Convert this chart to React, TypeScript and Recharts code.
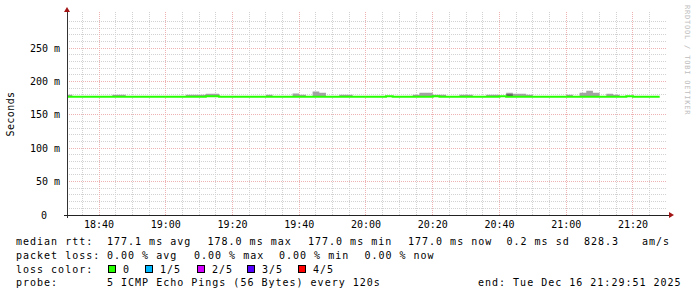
import React from 'react';
import { ComposedChart, Area, Line, XAxis, YAxis, CartesianGrid } from 'recharts';

// ---- data (2-minute buckets starting 18:30) ----
const START_MIN = 18 * 60 + 30;
const STEP_MIN = 2;

const medianMs = [
  177, 177, 177, 177, 177, 177, 177, 177, 177, 177,
  177, 177, 177, 177, 177, 177, 177, 177, 177, 177,
  177, 178, 178, 177, 177, 177, 177, 177, 177, 177,
  177, 177, 177, 177, 177, 177, 177, 177, 177, 177,
  177, 177, 177, 177, 177, 177, 177, 177, 178, 177,
  177, 177, 177, 177, 177, 178, 177, 177, 177, 177,
  177, 177, 177, 177, 177, 178, 177, 177, 177, 177,
  177, 177, 177, 177, 177, 177, 177, 177, 177, 177,
  177, 177, 177, 177, 178, 177, 177, 177, 177,
];

const smokeTopMs = [
  180, 177, 177, 177, 177, 177, 177, 180, 180, 177,
  177, 177, 177, 177, 177, 177, 177, 177, 180, 180,
  180, 181.5, 181.5, 177, 177, 177, 177, 177, 177, 177,
  180, 177, 177, 177, 182, 180, 177, 185, 183, 177,
  177, 180, 180, 177, 177, 177, 177, 177, 178, 177,
  177, 177, 180, 183, 183, 180, 180, 177, 177, 180,
  180, 177, 177, 180, 180, 178, 183, 181.5, 181.5, 180,
  177, 177, 177, 177, 177, 180, 177, 183, 186, 183,
  177, 181.5, 180, 177, 178, 177, 177, 177, 177,
];

const smokeCoreTopMs = [
  177, 177, 177, 177, 177, 177, 177, 177, 177, 177,
  177, 177, 177, 177, 177, 177, 177, 177, 177, 177,
  177, 178, 178, 177, 177, 177, 177, 177, 177, 177,
  177, 177, 177, 177, 177, 177, 177, 177, 177, 177,
  177, 177, 177, 177, 177, 177, 177, 177, 178, 177,
  177, 177, 177, 177, 177, 178, 177, 177, 177, 177,
  177, 177, 177, 177, 177, 178, 181, 177, 177, 177,
  177, 177, 177, 177, 177, 177, 177, 177, 177, 177,
  177, 177, 177, 177, 178, 177, 177, 177, 177,
];

const xMajorTicks = [1120, 1140, 1160, 1180, 1200, 1220, 1240, 1260, 1280];
const xTickLabels = ['18:40', '19:00', '19:20', '19:40', '20:00', '20:20', '20:40', '21:00', '21:20'];
const xMinorTicks = [1115, 1125, 1130, 1135, 1145, 1150, 1155, 1165, 1170, 1175, 1185, 1190, 1195,
  1205, 1210, 1215, 1225, 1230, 1235, 1245, 1250, 1255, 1265, 1270, 1275, 1285];
const yMajorTicks = [0, 50, 100, 150, 200, 250];
const yMajorGrid = [50, 100, 150, 200, 250];
const yMinorTicks = [10, 20, 30, 40, 60, 70, 80, 90, 110, 120, 130, 140, 160, 170, 180, 190,
  210, 220, 230, 240, 260, 270, 280, 290];
const X_DOMAIN: [number, number] = [1110.41, 1290.19];
const Y_DOMAIN: [number, number] = [0, 304];

const lossLabels = ['0', '1/5', '2/5', '3/5', '4/5'];
const lossColors = ['#26ff00', '#00b8ff', '#d400ff', '#5500ff', '#ff0000'];

const rows = medianMs.map((m, i) => ({
  t: START_MIN + i * STEP_MIN,
  median: m,
  smoke: [m, smokeTopMs[i]],
  core: [m, smokeCoreTopMs[i]],
}));
const last = medianMs.length - 1;
rows.push({
  t: START_MIN + medianMs.length * STEP_MIN,
  median: medianMs[last],
  smoke: [medianMs[last], smokeTopMs[last]],
  core: [medianMs[last], smokeCoreTopMs[last]],
});

const MONO = '"DejaVu Sans Mono", monospace';

const XTick = (props: any) => {
  const { x, y, payload } = props;
  const idx = xMajorTicks.indexOf(payload.value);
  return (
    <text x={x} y={y} dy={13.3} textAnchor="middle" fontFamily={MONO} fontSize={10} fill="#000">
      {idx >= 0 ? xTickLabels[idx] : ''}
    </text>
  );
};

const YTick = (props: any) => {
  const { x, y, payload } = props;
  const v = payload.value;
  return (
    <text x={x} y={y} dx={v === 0 ? -13 : 0} dy={3.6} textAnchor="end" fontFamily={MONO} fontSize={10} fill="#000">
      {v === 0 ? '0' : `${v} m`}
    </text>
  );
};

const legendFont = { fontFamily: MONO, fontSize: 10, letterSpacing: 1, fill: '#000' } as const;

export default function App() {
  return (
    <div style={{ position: 'absolute', left: 0, top: 0, width: 697, height: 297, background: '#fff' }}>
      <ComposedChart
        width={697}
        height={297}
        data={rows}
        margin={{ top: 12, right: 30, bottom: 0, left: 0 }}
      >
        <CartesianGrid
          horizontalValues={yMinorTicks}
          verticalValues={xMinorTicks}
          stroke="#d2d2d2"
          strokeDasharray="1 1"
          shapeRendering="crispEdges"
        />
        <CartesianGrid
          horizontalValues={yMajorGrid}
          verticalValues={xMajorTicks}
          stroke="#efb2b2"
          strokeDasharray="1 1"
          shapeRendering="crispEdges"
        />
        <XAxis
          type="number"
          dataKey="t"
          domain={X_DOMAIN}
          allowDataOverflow
          ticks={xMajorTicks}
          interval={0}
          tick={<XTick />}
          axisLine={false}
          tickLine={false}
          tickSize={0}
          tickMargin={0}
          height={82}
        />
        <YAxis
          type="number"
          domain={Y_DOMAIN}
          allowDataOverflow
          ticks={yMajorTicks}
          interval={0}
          tick={<YTick />}
          axisLine={false}
          tickLine={false}
          tickSize={0}
          tickMargin={7}
          width={67}
        />
        <Area
          type="stepAfter"
          dataKey="smoke"
          stroke="none"
          fill="#a2a2a2"
          fillOpacity={1}
          isAnimationActive={false}
        />
        <Area
          type="stepAfter"
          dataKey="core"
          stroke="none"
          fill="#5a5a5a"
          fillOpacity={1}
          isAnimationActive={false}
        />
        <Line
          type="stepAfter"
          dataKey="median"
          stroke="#26ff00"
          strokeWidth={2}
          dot={false}
          isAnimationActive={false}
        />
      </ComposedChart>
      <svg
        width={697}
        height={297}
        style={{ position: 'absolute', left: 0, top: 0, pointerEvents: 'none' }}
      >
        {/* axes */}
        <line x1={67} y1={11} x2={67} y2={218} stroke="#333" strokeWidth={1} shapeRendering="crispEdges" />
        <line x1={64} y1={215} x2={669} y2={215} stroke="#222" strokeWidth={1} shapeRendering="crispEdges" />
        <polygon points="64,12 70,12 67,7" fill="#a31515" />
        <polygon points="669,212 669,218 674,215" fill="#a31515" />
        {/* unit label */}
        <text
          transform="translate(14,114) rotate(-90)"
          textAnchor="middle"
          fontFamily={MONO}
          fontSize={10}
          letterSpacing={0.4}
          fill="#000"
        >
          Seconds
        </text>
        {/* watermark */}
        <text
          transform="translate(685,5) rotate(90)"
          fontFamily={MONO}
          fontSize={7}
          letterSpacing={0.8}
          fill="#bdbdbd"
        >
          RRDTOOL / TOBI OETIKER
        </text>
        {/* legend line 1 */}
        <text x={16} y={245.3} {...legendFont}>median rtt:</text>
        <text x={107} y={245.3} {...legendFont}>177.1 ms avg</text>
        <text x={207.5} y={245.3} {...legendFont}>178.0 ms max</text>
        <text x={308} y={245.3} {...legendFont}>177.0 ms min</text>
        <text x={408} y={245.3} {...legendFont}>177.0 ms now</text>
        <text x={506.5} y={245.3} {...legendFont}>0.2 ms sd</text>
        <text x={584} y={245.3} {...legendFont}>828.3</text>
        <text x={642} y={245.3} {...legendFont}>am/s</text>
        {/* legend line 2 */}
        <text x={16} y={259} {...legendFont}>packet loss:</text>
        <text x={107} y={259} {...legendFont}>0.00 % avg</text>
        <text x={194} y={259} {...legendFont}>0.00 % max</text>
        <text x={279} y={259} {...legendFont}>0.00 % min</text>
        <text x={364.4} y={259} {...legendFont}>0.00 % now</text>
        {/* legend line 3 */}
        <text x={16} y={272.7} {...legendFont}>loss color:</text>
        {lossLabels.map((lbl, i) => {
          const sx = [108.5, 145.5, 197.5, 247.5, 298.5][i];
          const tx = [123, 160, 212, 262, 313][i];
          return (
            <g key={lbl}>
              <rect x={sx} y={265.5} width={7} height={7} fill={lossColors[i]} stroke="#000" strokeWidth={1} />
              <text x={tx} y={272.7} {...legendFont}>{lbl}</text>
            </g>
          );
        })}
        {/* legend line 4 */}
        <text x={16} y={286.3} {...legendFont}>probe:</text>
        <text x={107} y={286.3} {...legendFont}>5 ICMP Echo Pings (56 Bytes) every 120s</text>
        <text x={478} y={286.3} {...legendFont}>end: Tue Dec 16 21:29:51 2025</text>
      </svg>
    </div>
  );
}
